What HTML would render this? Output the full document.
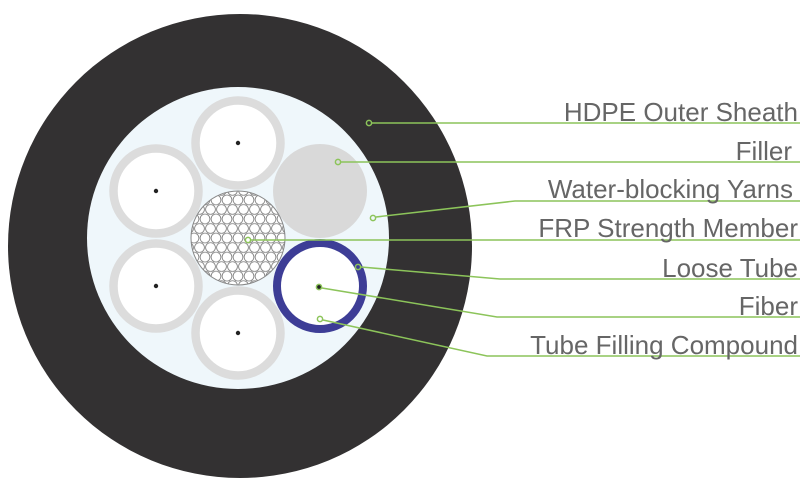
<!DOCTYPE html>
<html><head><style>html,body{margin:0;padding:0;background:#fff;}svg{display:block}</style></head>
<body>
<svg width="800" height="478" viewBox="0 0 800 478" xmlns="http://www.w3.org/2000/svg">
<defs>
<pattern id="hex" width="11" height="19.05" patternUnits="userSpaceOnUse" x="238" y="238">
<rect width="11" height="19.05" fill="#fff"/>
<g fill="#fff" stroke="#7a7a7a" stroke-width="0.8">
<circle cx="0" cy="0" r="4.9"/><circle cx="11" cy="0" r="4.9"/>
<circle cx="5.5" cy="9.525" r="4.9"/>
<circle cx="0" cy="19.05" r="4.9"/><circle cx="11" cy="19.05" r="4.9"/>
</g>
</pattern>
</defs>
<circle cx="240" cy="246" r="232" fill="#333132"/>
<circle cx="238" cy="238" r="151" fill="#eff7fb"/>
<g fill="#fff" stroke="#dcdcdc" stroke-width="8.5">
<circle cx="238" cy="143" r="42.5"/>
<circle cx="156" cy="191" r="42.5"/>
<circle cx="156" cy="286" r="42.5"/>
<circle cx="238" cy="333" r="42.5"/>
</g>
<circle cx="320" cy="191" r="47" fill="#d9d9d9"/>
<circle cx="320" cy="286" r="43" fill="#fff" stroke="#3d3d96" stroke-width="8"/>
<circle cx="238" cy="238" r="47" fill="url(#hex)" stroke="#888" stroke-width="1"/>
<g fill="#222">
<circle cx="238" cy="143" r="2.2"/><circle cx="156" cy="191" r="2.2"/>
<circle cx="156" cy="286" r="2.2"/><circle cx="238" cy="333" r="2.2"/>
<circle cx="319" cy="287" r="2.2"/>
</g>
<g fill="none" stroke="#8cc45a" stroke-width="1.5">
<polyline points="372,123 800,123"/>
<polyline points="341,162 800,162"/>
<polyline points="376,217 515,201 800,201"/>
<polyline points="251,240 800,240"/>
<polyline points="361,267 500,279 800,279"/>
<polyline points="322,288 497,317 800,317"/>
<polyline points="323,320 487,356 800,356"/>
<circle cx="369" cy="123" r="2.6"/>
<circle cx="338" cy="162" r="2.6"/>
<circle cx="373" cy="218" r="2.6"/>
<circle cx="248" cy="240" r="2.6"/>
<circle cx="358" cy="267" r="2.6"/>
<circle cx="319" cy="287" r="2.6"/>
<circle cx="320" cy="319" r="2.6"/>
</g>
<g font-family="Liberation Sans, sans-serif" font-size="26" fill="#666" text-anchor="end">
<text x="798" y="121">HDPE Outer Sheath</text>
<text x="792" y="160">Filler</text>
<text x="793" y="198">Water-blocking Yarns</text>
<text x="798" y="237">FRP Strength Member</text>
<text x="798" y="277">Loose Tube</text>
<text x="798" y="315">Fiber</text>
<text x="798" y="354">Tube Filling Compound</text>
</g>
</svg>
</body></html>
